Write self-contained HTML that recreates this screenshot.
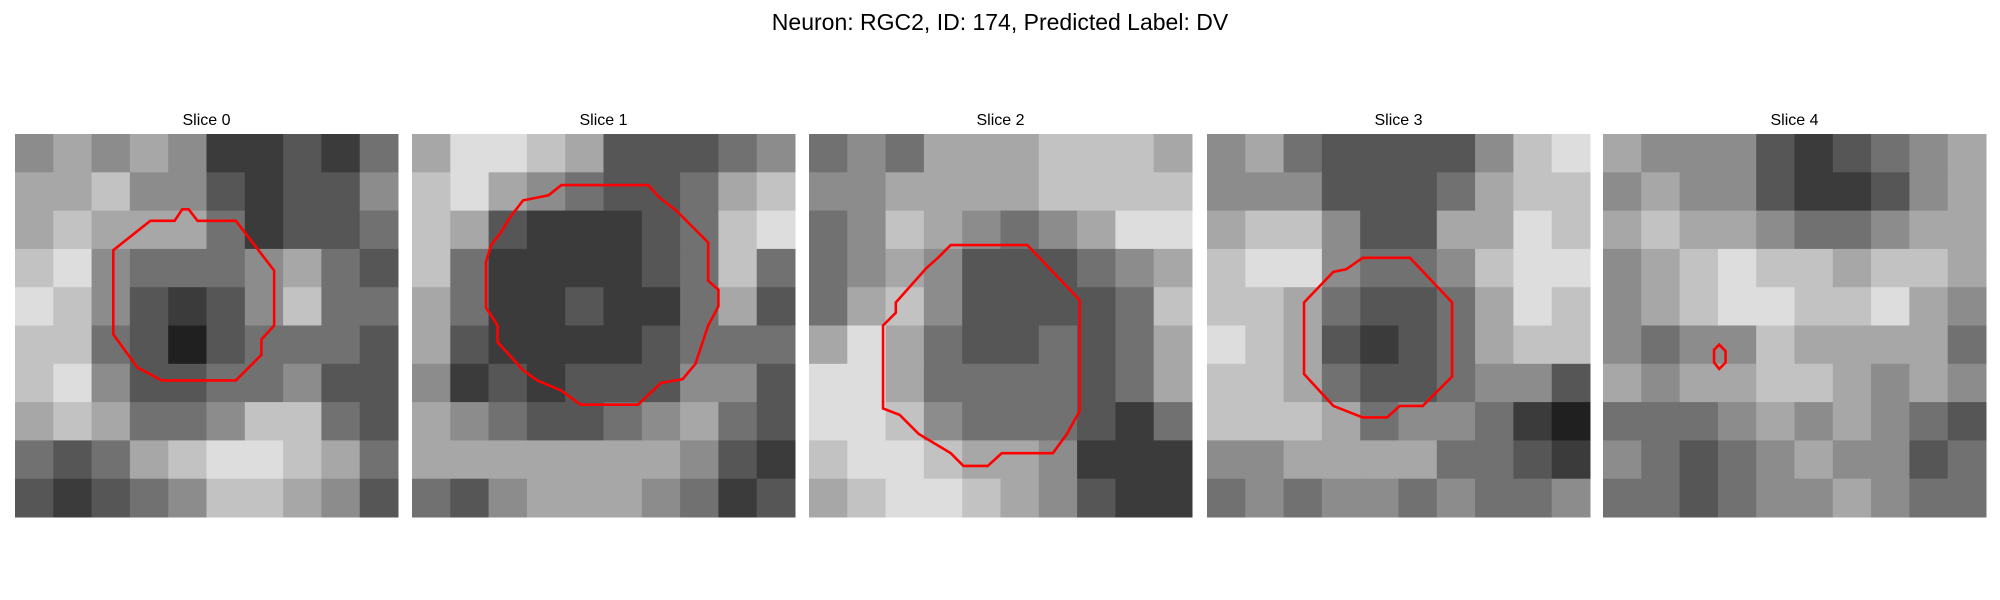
<!DOCTYPE html>
<html><head><meta charset="utf-8"><style>
html,body{margin:0;padding:0;background:#fff;width:2000px;height:600px;overflow:hidden}
svg{display:block;font-family:"Liberation Sans","DejaVu Sans",sans-serif}
</style></head><body>
<svg id="fig" width="2000" height="600" viewBox="0 0 2000 600">
<text x="1000" y="30" text-anchor="middle" font-size="23" fill="#000">Neuron: RGC2, ID: 174, Predicted Label: DV</text>
</svg>
<script>
const sliceTitles=["Slice 0","Slice 1","Slice 2","Slice 3","Slice 4"];
const grid0=[[5,6,5,6,5,2,2,3,2,4],[6,6,7,5,5,3,2,3,3,5],[6,7,6,6,6,4,2,3,3,4],[7,8,5,4,4,4,5,6,4,3],[8,7,5,3,2,3,5,7,4,4],[7,7,4,3,1,3,4,4,4,3],[7,8,5,3,3,4,4,5,3,3],[6,7,6,4,4,5,7,7,4,3],[4,3,4,6,7,8,8,7,6,4],[3,2,3,4,5,7,7,6,5,3]];
const grid1=[[6,8,8,7,6,3,3,3,4,5],[7,8,6,5,4,3,3,4,6,7],[7,6,3,2,2,2,3,4,7,8],[7,4,2,2,2,2,3,4,7,4],[6,4,2,2,3,2,2,4,6,3],[6,3,2,2,2,2,3,4,4,4],[5,2,3,2,3,3,3,5,5,3],[6,5,4,3,3,4,5,6,4,3],[6,6,6,6,6,6,6,5,3,2],[4,3,5,6,6,6,5,4,2,3]];
const grid2=[[4,5,4,6,6,6,7,7,7,6],[5,5,6,6,6,6,7,7,7,7],[4,5,7,6,5,4,5,6,8,8],[4,5,6,5,3,3,3,4,5,6],[4,6,7,5,3,3,3,3,4,7],[6,8,6,4,3,3,4,3,4,6],[8,8,6,4,4,4,4,3,4,6],[8,8,7,5,4,4,4,3,2,4],[7,8,8,7,6,6,5,2,2,2],[6,7,8,8,7,6,5,3,2,2]];
const grid3=[[5,6,4,3,3,3,3,5,7,8],[5,5,5,3,3,3,4,6,7,7],[6,7,7,5,3,3,6,6,8,7],[7,8,8,5,4,4,5,7,8,8],[7,7,6,4,3,3,4,6,8,7],[8,7,6,3,2,3,4,6,7,7],[7,7,6,4,3,3,4,5,5,3],[7,7,7,6,4,5,5,4,2,1],[5,5,6,6,6,6,4,4,3,2],[4,5,4,5,5,4,5,4,4,5]];
const grid4=[[6,5,5,5,3,2,3,4,5,6],[5,6,5,5,3,2,2,3,5,6],[6,7,6,6,5,4,4,5,6,6],[5,6,7,8,7,7,6,7,7,6],[5,6,7,8,8,7,7,8,6,5],[5,4,5,5,7,6,6,6,6,4],[6,5,6,6,7,7,6,5,6,5],[4,4,4,5,6,5,6,5,4,3],[5,4,3,4,5,6,5,5,3,4],[4,4,3,4,5,5,6,5,4,4]];
const contour0=[[7.7,9.1],[7.7,15.7],[9.6,18.3],[11.5,19.3],[17.3,19.3],[19.3,17.3],[19.3,16.1],[20.3,15],[20.3,10.7],[17.3,6.8],[14.3,6.8],[13.6,5.9],[13.1,5.9],[12.5,6.8],[10.6,6.8]];
const contour1=[[5.8,10],[5.8,13.6],[6.7,15],[6.7,16.3],[8.7,18.5],[9.8,19.3],[11.7,20.1],[13.2,21.2],[17.7,21.2],[19.5,19.5],[21.2,19.2],[22.2,18],[22.7,16.5],[23.2,15],[24,13.5],[24,12.2],[23.2,11.5],[23.2,8.5],[20.7,6],[19.4,5],[18.5,4],[11.7,4],[10.7,4.8],[8.7,5.2],[7.7,6.5],[6.9,7.8],[6.2,8.7]];
const contour2=[[10.1,9.7],[11.1,8.7],[17.1,8.7],[21.2,13],[21.2,21.7],[20.2,23.5],[19.1,25],[15.1,25],[14,26],[12.1,26],[11.1,25],[8.6,23.5],[7.1,22],[5.8,21.5],[5.8,15],[6.8,14],[6.8,13.2],[9.2,10.5]];
const contour3=[[10.9,10.6],[12.2,9.7],[15.9,9.7],[19.2,13.2],[19.2,19],[16.9,21.3],[15.1,21.3],[14.1,22.2],[12.2,22.2],[9.9,21.3],[7.6,18.8],[7.6,13.2],[9.9,10.8]];
const contour4=[[8.7,16.9],[9.1,16.5],[9.6,17],[9.6,17.9],[9.1,18.4],[8.7,17.9]];
const grids=[grid0,grid1,grid2,grid3,grid4];
const contours=[contour0,contour1,contour2,contour3,contour4];

const NS="http://www.w3.org/2000/svg";
const svg=document.getElementById('fig');
const panelX=[15,412,809,1207,1603], panelY=134, panelS=383, cells=30;
const cx=(p,v)=>panelX[p]+v*panelS/cells;
const cy=v=>panelY+v*panelS/cells;
const gray=v=>{const c=Math.round(5+v*27);return `rgb(${c},${c},${c})`;};
for(let p=0;p<5;p++){
  const g=document.createElementNS(NS,'g');
  
  
  svg.appendChild(g);
  const t=document.createElementNS(NS,'text');
  t.setAttribute('x',panelX[p]+panelS/2);t.setAttribute('y',125);
  t.setAttribute('text-anchor','middle');t.setAttribute('font-size','16');
  t.textContent=sliceTitles[p];
  
  
  g.appendChild(t);
  const gr=grids[p], n=gr.length, step=cells/n;
  for(let r=0;r<n;r++)for(let c=0;c<n;c++){
    const rc=document.createElementNS(NS,'rect');
    const x0=cx(p,c*step),y0=cy(r*step);
    rc.setAttribute('x',x0);rc.setAttribute('y',y0);
    rc.setAttribute('width',cx(p,(c+1)*step)-x0+0.5);
    rc.setAttribute('height',cy((r+1)*step)-y0+0.5);
    rc.setAttribute('fill',gray(gr[r][c]));
    
    
    g.appendChild(rc);
  }
  const pl=document.createElementNS(NS,'polygon');
  pl.setAttribute('points',contours[p].map(q=>cx(p,q[0])+','+cy(q[1])).join(' '));
  pl.setAttribute('fill','none');pl.setAttribute('stroke','#ff0000');pl.setAttribute('stroke-width','2.6');
  
  
  g.appendChild(pl);
}
</script>
</body></html>
